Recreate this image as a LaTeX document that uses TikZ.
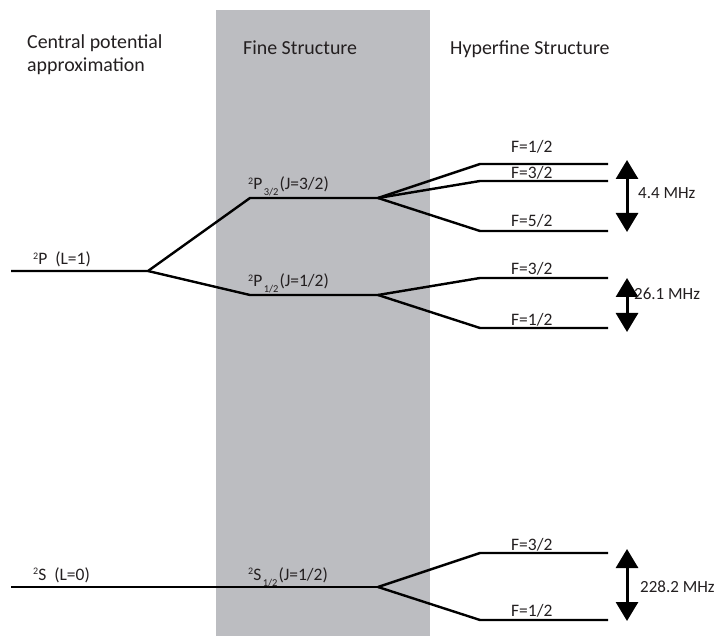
\documentclass[tikz,border=0pt]{standalone}
\usepackage{fontspec}
\setmainfont{Carlito}
\usetikzlibrary{arrows.meta, positioning}
\definecolor{band}{RGB}{188,189,193}
\definecolor{ink}{RGB}{35,31,32}
\newcommand{\orbit}[2]{\raisebox{5.5pt}{\fontsize{10}{10}\selectfont 2}#1\hspace{8pt}(#2)}
\newcommand{\term}[3]{\raisebox{5.5pt}{\fontsize{10}{10}\selectfont 2}#1\kern1.5pt\raisebox{-6pt}{\fontsize{10.5}{10.5}\selectfont #2}\kern1pt(#3)}
\tikzset{
		level/.style={draw=black, line width=2.4pt, line join=miter},
		gap/.style={{Triangle[width=22pt,length=19pt]}-{Triangle[width=22pt,length=19pt]}, line width=3pt},
		head/.style={inner sep=0pt, anchor=base west, text=ink, font=\fontsize{19.9}{23}\selectfont},
		lbl/.style={inner sep=0pt, anchor=base west, text=ink, font=\fontsize{17.5}{20}\selectfont},
		flbl/.style={inner sep=0pt, anchor=base west, text=ink, font=\fontsize{17.5}{20}\selectfont},
		mhz/.style={inner sep=0pt, anchor=base west, text=ink, font=\fontsize{17}{20}\selectfont}
	}

\begin{document}
\begin{tikzpicture}[x=1pt, y=-1pt]
				\useasboundingbox (0,0) rectangle (715,636);
				\fill[band] (216,10) rectangle (430,636);

				% headings
				\node[head] (cpa1) at (27,49)  {Central potential};
				\node[head] (cpa2) at (27,72)  {approximation};
				\node[head] (fine) at (243,55) {Fine Structure};
				\node[head] (hyp)  at (450,55) {Hyperfine Structure};

				% levels
				\coordinate (p)     at (11,271);
				\coordinate (pfork) at (148,271);
				\coordinate (p32a)  at (250,198);
				\coordinate (p32b)  at (378,198);
				\coordinate (p12a)  at (250,295);
				\coordinate (p12b)  at (378,295);
				\coordinate (s)     at (11,587);
				\coordinate (s12b)  at (378,587);

				\coordinate (h1a) at (480,164);  \coordinate (h1b) at (608,164);
				\coordinate (h2a) at (480,181);  \coordinate (h2b) at (608,181);
				\coordinate (h3a) at (480,231);  \coordinate (h3b) at (608,231);
				\coordinate (h4a) at (480,278);  \coordinate (h4b) at (608,278);
				\coordinate (h5a) at (480,328);  \coordinate (h5b) at (608,328);
				\coordinate (h6a) at (480,553);  \coordinate (h6b) at (608,553);
				\coordinate (h7a) at (480,620);  \coordinate (h7b) at (608,620);

				\path[level] (p) -- (pfork) -- (p32a) -- (p32b);
				\path[level] (pfork) -- (p12a) -- (p12b);
				\path[level] (s) -- (s12b);

				\path[level] (p32b) -- (h1a) -- (h1b);
				\path[level] (p32b) -- (h2a) -- (h2b);
				\path[level] (p32b) -- (h3a) -- (h3b);
				\path[level] (p12b) -- (h4a) -- (h4b);
				\path[level] (p12b) -- (h5a) -- (h5b);
				\path[level] (s12b) -- (h6a) -- (h6b);
				\path[level] (s12b) -- (h7a) -- (h7b);

				% level labels
				\node[lbl] (lp)   at (33,265)  {\orbit{P}{L=1}};
				\node[lbl] (lp32) at (248,190) {\term{P}{3/2}{J=3/2}};
				\node[lbl] (lp12) at (248,287) {\term{P}{1/2}{J=1/2}};
				\node[lbl] (ls)   at (33,580)  {\orbit{S}{L=0}};
				\node[lbl] (ls12) at (248,580) {\term{S}{1/2}{J=1/2}};

				\node[flbl] (f1) at (511,153) {F=1/2};
				\node[flbl] (f2) at (511,179) {F=3/2};
				\node[flbl] (f3) at (511,227) {F=5/2};
				\node[flbl] (f4) at (511,275) {F=3/2};
				\node[flbl] (f5) at (511,326) {F=1/2};
				\node[flbl] (f6) at (511,550) {F=3/2};
				\node[flbl] (f7) at (511,616) {F=1/2};

				% splittings
				\coordinate (g1t) at (627,160);  \coordinate (g1b) at (627,232);
				\coordinate (g2t) at (627,278);  \coordinate (g2b) at (627,332);
				\coordinate (g3t) at (627,549);  \coordinate (g3b) at (627,621);

				\path[gap, draw] (g1t) -- (g1b);
				\path[gap, draw] (g2t) -- (g2b);
				\path[gap, draw] (g3t) -- (g3b);

				\node[mhz] (m1) at (638,199) {4.4 MHz};
				\node[mhz] (m2) at (634,300) {26.1 MHz};
				\node[mhz] (m3) at (640,592) {228.2 MHz};
			\end{tikzpicture}
\end{document}
